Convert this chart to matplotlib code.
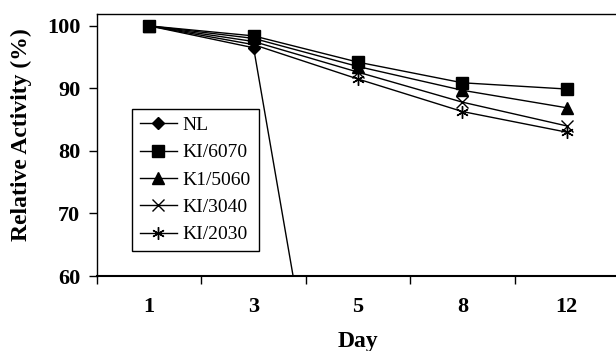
import numpy as np
import matplotlib
matplotlib.use("Agg")
import matplotlib.pyplot as plt

days = ["1", "3", "5", "8", "12"]
nl = [100, 96.5, 0, 0, 0]
ki6070 = [100, 98.4, 94.2, 90.9, 89.9]
k15060 = [100, 98.0, 93.5, 89.7, 86.9]
ki3040 = [100, 97.5, 92.6, 87.8, 84.0]
ki2030 = [100, 97.0, 91.5, 86.3, 83.0]

plt.rcParams['font.family'] = ['Liberation Serif', 'DejaVu Serif']

fig = plt.figure(figsize=(6.16, 3.51), dpi=100)
ax = fig.add_axes([97/616, 1-276/351, 522/616, 262/351])

x = np.arange(len(days))
lw = 1.0
ax.plot(x, nl, color='black', lw=lw, marker='D', ms=6, label='NL')
ax.plot(x, ki6070, color='black', lw=lw, marker='s', ms=8.5, label='KI/6070')
ax.plot(x, k15060, color='black', lw=lw, marker='^', ms=8.5, label='K1/5060')
ax.plot(x, ki3040, color='black', lw=lw, marker='x', ms=8, mew=1.0, label='KI/3040')
ax.plot(x, ki2030, color='black', lw=lw, marker=(6, 2, 0), ms=9, mew=1.0, label='KI/2030')

ax.set_xlim(-0.5, len(days) - 0.5)
ax.set_ylim(60, 101.9)
ax.set_yticks([60, 70, 80, 90, 100])
ax.set_xticks(x)
ax.set_xticklabels(days)
ax.set_xticks(np.arange(-0.5, len(days)), minor=True)
ax.tick_params(axis='x', which='major', length=0, pad=15, labelsize=16)
ax.tick_params(axis='x', which='minor', length=6, direction='out', width=1)
ax.tick_params(axis='y', length=6, direction='out', width=1, labelsize=16, pad=6)
for lab in ax.get_xticklabels() + ax.get_yticklabels():
    lab.set_fontweight('bold')

for s in ['top', 'left', 'right']:
    ax.spines[s].set_linewidth(1.0)
ax.spines['bottom'].set_linewidth(1.5)

ax.set_xlabel('Day', fontsize=17, fontweight='bold', labelpad=10)
ax.set_ylabel('Relative Activity (%)', fontsize=17, fontweight='bold')
ax.yaxis.set_label_coords(-0.124, 0.54)

leg = ax.legend(loc='lower left', bbox_to_anchor=(0.067, 0.095), fontsize=14,
                frameon=True, fancybox=False, edgecolor='black', framealpha=1,
                handlelength=1.9, handletextpad=0.3, labelspacing=0.5,
                borderpad=0.4, borderaxespad=0)
leg.get_frame().set_linewidth(1.0)

fig.savefig('out.png', dpi=100)
